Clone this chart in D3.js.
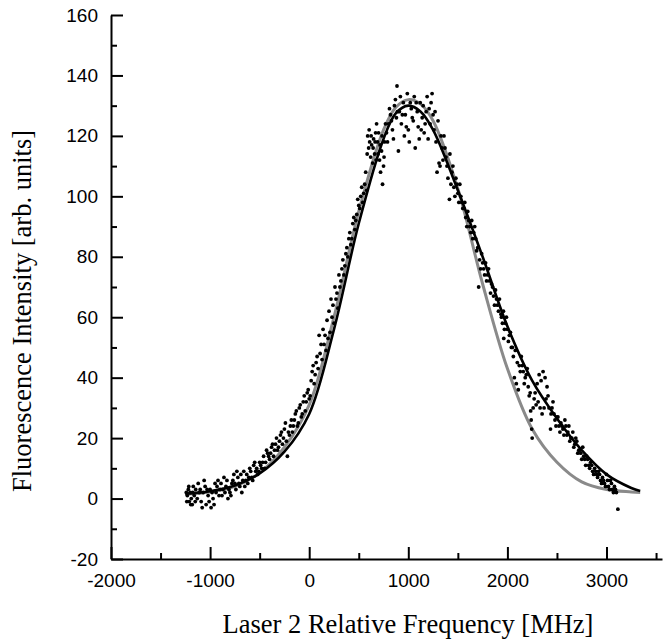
<!DOCTYPE html>
<html lang="en">
<head>
<meta charset="UTF-8">
<title>Fluorescence vs Laser 2 Frequency</title>
<script src="https://d3js.org/d3.v7.min.js"></script>
<style>
  body { margin: 0; background: #fff; }
  .tick text { font-family: "Liberation Sans", Arial, Helvetica, sans-serif; font-size: 19px; fill: #000; }
  .domain, .tick line { stroke: #000; stroke-width: 2; }
  .title { font-family: "Liberation Serif", "Times New Roman", serif; font-size: 26.5px; fill: #000; }
</style>
</head>
<body>
<script>
// axis ticks
const xMajor = [-2000, -1000, 0, 1000, 2000, 3000];
const xMinor = [-1500, -500, 500, 1500, 2500, 3500];
const yMajor = [-20, 0, 20, 40, 60, 80, 100, 120, 140, 160];
const yMinor = [-10, 10, 30, 50, 70, 90, 110, 130, 150];

// fitted curves
const fitFreq = [-1250, -1000, -750, -500, -250, 0, 250, 500, 750, 875, 1000, 1125, 1250, 1500, 1750, 2000, 2250, 2500, 2750, 3000, 3250, 3340];
const fitBlack = [1.6, 2.4, 4.3, 8.3, 15.5, 28, 56, 91, 119, 127.5, 130, 128, 122, 102, 80, 57, 39, 26.5, 16, 8, 3.5, 2.5];
const fitGray = [1.5, 2.2, 4, 8.5, 17, 31, 60, 95, 122, 129.5, 132, 130.5, 125, 102.5, 71, 43, 23, 12, 5.5, 3, 2.2, 2];

// measured points [frequency MHz, intensity]
const points = [
  [-1240,2],[-1235,-1],[-1230,1],[-1220,3],[-1215,4],[-1210,-1],[-1200,2],[-1195,-2],[-1190,0],[-1180,-2],[-1175,2],[-1170,4],[-1160,1],[-1150,-1],[-1145,3],[-1130,0],
  [-1120,5],[-1110,2],[-1100,3],[-1090,-1],[-1080,-3],[-1070,2],[-1060,6],[-1050,4],[-1040,-2],[-1030,3],[-1020,1],[-1010,-1],[-1000,3],[-990,-3],[-980,2],[-970,0],[-960,-2],[-950,5],[-940,2],[-930,4],
  [-920,6],[-910,1],[-900,3],[-890,5],[-880,1],[-870,3],[-860,7],[-850,2],[-840,4],[-830,6],[-820,0],[-810,3],[-800,2],[-790,1],[-780,5],[-770,6],[-760,8],[-750,5],[-740,3],[-730,9],
  [-720,7],[-710,5],[-700,4],[-690,8],[-680,2],[-670,6],[-660,9],[-650,4],[-640,6],[-630,8],[-620,5],[-610,7],[-600,10],[-590,9],[-580,7],[-570,6],[-560,11],[-550,12],[-540,9],[-530,10],[-520,8],[-510,9],[-500,12],
  [-490,11],[-480,10],[-470,12],[-460,14],[-450,10],[-440,12],[-430,16],[-420,15],[-410,14],[-400,13],[-390,15],[-380,17],[-370,18],[-360,14],[-350,16],[-340,18],[-330,20],[-320,16],[-310,17],[-300,19],
  [-290,21],[-280,22],[-270,18],[-260,20],[-250,23],[-240,25],[-230,19],[-220,14],[-210,22],[-200,21],[-190,24],[-180,26],[-170,22],[-160,24],
  [-150,26],[-140,28],[-130,29],[-120,24],[-110,25],[-100,30],[-90,31],[-80,27],[-70,28],[-60,32],[-50,34],[-40,29],[-30,32],[-20,35],[-10,36],[0,33],[10,34],
  [20,39],[30,42],[40,44],[50,38],[60,41],[70,45],[80,47],[90,43],[110,48],[130,46],[150,51],[170,49],[190,53],[210,55],
  [100,54],[120,51],[140,56],[160,54],[180,59],[200,62],[220,66],[230,60],[240,64],[250,58],[260,70],[270,66],[280,68],[290,63],[300,74],[310,70],[320,72],[330,76],
  [340,79],[350,74],[360,77],[370,81],[380,83],[390,80],[400,86],[410,88],[420,84],[430,86],[440,91],[450,93],[460,89],[470,92],[480,94],[490,99],
  [500,97],[510,96],[520,100],[530,103],[540,98],[550,101],[560,104],[570,108],[580,102],[585,114],
  [590,120],[600,116],[605,122],[610,118],[620,113],[625,120],[630,117],[640,111],[645,116],[650,119],[660,114],[665,118],[670,121],[675,112],[680,124],
  [690,118],[695,114],[700,121],[710,112],[715,117],[720,108],[730,115],[735,120],[740,104],[750,110],[755,113],[760,118],[770,124],
  [780,121],[790,118],[800,124],[810,129],[820,127],[830,125],[840,122],[850,119],[860,130],[870,132],[880,126],[886,136.5],[890,128],[900,115],[910,128],[920,133],[930,124],[940,127],
  [950,131],[960,120],[970,127],[980,123],[990,134],[1000,122],[1010,118],[1020,131],[1030,129],[1040,126],[1050,125],[1060,133],[1070,116],[1080,131],[1090,128],
  [1100,123],[1110,119],[1120,131],[1130,122],[1140,126],[1150,130],[1160,121],[1170,124],[1180,128],[1190,133],[1200,119],[1210,129],[1220,124],[1230,131],[1240,134],[1250,127],
  [1260,122],[1270,128],[1280,118],[1290,108],[1300,125],[1310,111],[1320,110],[1330,120],[1340,116],[1350,112],[1360,120],[1370,116],[1380,113],[1390,110],[1400,106],[1415,99],[1420,114],[1430,104],[1440,108],[1450,110],
  [1460,103],[1470,100],[1480,106],[1490,104],[1500,101],[1510,98],[1520,104],[1530,100],[1540,98],[1550,96],
  [1560,96],[1570,98],[1580,93],[1590,90],[1600,95],[1610,92],[1620,90],[1630,88],[1640,92],[1650,86],[1660,88],[1670,90],[1680,86],[1690,82],
  [1700,83],[1710,70],[1720,79],[1730,76],[1740,81],[1750,78],[1760,76],[1770,74],[1780,78],[1790,72],[1800,74],[1810,76],[1820,72],[1830,68],
  [1840,71],[1850,70],[1860,67],[1870,64],[1880,69],[1890,66],[1900,64],[1910,62],[1920,66],[1935,61],[1940,60],[1950,58],[1963,53],[1960,62],[1970,56],[1980,58],[1990,60],[2000,56],[2010,52],[2020,54],[2030,55],
  [2040,50],[2050,50],[2060,47],[2070,40],[2080,49],[2090,38],[2100,45],[2110,36],[2120,44],[2130,42],[2140,47],[2150,44],[2160,42],[2170,38],[2180,40],[2190,41],[2200,43],
  [2210,37],[2220,34],[2230,35],[2235,29],[2240,26],[2245,23],[2250,20],[2260,30],[2270,33],[2280,35],[2290,31],[2300,38],[2310,32],[2320,41],
  [2330,30],[2340,39],[2350,28],[2360,42],[2370,30],[2380,40],[2390,33],[2400,37],
  [2410,34],[2420,30],[2435,23],[2440,28],[2450,30],[2460,32],[2470,28],[2480,26],[2490,24],[2500,27],[2510,27],[2520,24],[2530,22],
  [2540,25],[2550,24],[2560,23],[2570,21],[2580,26],[2590,24],[2600,21],[2610,22],[2620,24],[2630,19],[2640,20],[2650,20],[2660,22],[2670,17],[2680,18],[2690,20],[2700,19],[2710,15],[2720,16],[2730,16],
  [2740,15],[2750,13],[2760,17],[2770,14],[2780,13],[2790,11],[2800,14],[2810,13],[2820,11],[2830,10],[2840,12],[2850,11],[2860,9],[2870,8],[2880,10],[2890,9],[2900,8],[2910,7],[2920,9],[2930,8],
  [2940,6],[2950,5],[2960,7],[2970,6],[2980,5],[2990,4],[3000,8],[3010,6],[3020,4],[3030,3],[3040,6],[3050,5],[3060,3],[3070,2],[3080,4],[3090,3],[3100,2],[3115,-3.5]
];

const W = 665, H = 643;
const svg = d3.select("body").append("svg")
    .attr("width", W)
    .attr("height", H);

const x = d3.scaleLinear().domain([-2000, 3560]).range([111, 662]);
const y = d3.scaleLinear().domain([-20, 160]).range([559, 15]);

const fmt = d => String(d);

// minor ticks first (no labels)
svg.append("g")
    .attr("transform", "translate(0,559)")
    .call(d3.axisBottom(x).tickValues(xMinor).tickFormat("").tickSize(-6).tickSizeOuter(0))
    .select(".domain").remove();
svg.append("g")
    .attr("transform", "translate(111,0)")
    .call(d3.axisLeft(y).tickValues(yMinor).tickFormat("").tickSize(-6).tickSizeOuter(0))
    .select(".domain").remove();

// major ticks with labels
svg.append("g")
    .attr("transform", "translate(0,559)")
    .call(d3.axisBottom(x).tickValues(xMajor).tickFormat(fmt).tickSize(-12).tickSizeOuter(0).tickPadding(15));
svg.append("g")
    .attr("transform", "translate(111,0)")
    .call(d3.axisLeft(y).tickValues(yMajor).tickFormat(fmt).tickSize(-12).tickSizeOuter(0).tickPadding(13));

// fits
const fitLine = vals => d3.line()
    .x((d, i) => x(fitFreq[i]))
    .y((d, i) => y(vals[i]))
    .curve(d3.curveCatmullRom)(vals);

svg.append("path")
    .attr("d", fitLine(fitGray))
    .attr("fill", "none")
    .attr("stroke", "#8a8a8a")
    .attr("stroke-width", 3);

svg.append("path")
    .attr("d", fitLine(fitBlack))
    .attr("fill", "none")
    .attr("stroke", "#000")
    .attr("stroke-width", 2.6);

// data dots
svg.selectAll(".dot")
    .data(points)
    .enter()
    .append("circle")
    .attr("class", "dot")
    .attr("cx", d => x(d[0]))
    .attr("cy", d => y(d[1]))
    .attr("r", 1.9)
    .attr("fill", "#000");

// axis titles
svg.append("text")
    .attr("class", "title")
    .attr("text-anchor", "middle")
    .attr("x", 408)
    .attr("y", 633)
    .text("Laser 2 Relative Frequency [MHz]");

svg.append("text")
    .attr("class", "title")
    .attr("text-anchor", "middle")
    .attr("transform", "translate(31,311) rotate(-90)")
    .text("Fluorescence Intensity [arb. units]");
</script>
</body>
</html>
